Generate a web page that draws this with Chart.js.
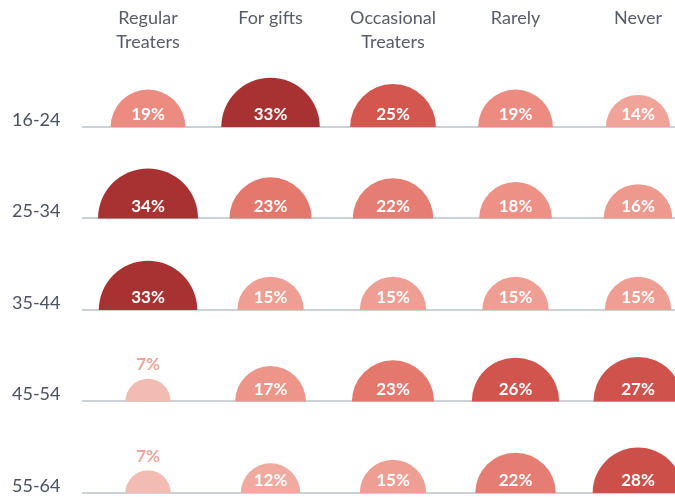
<!DOCTYPE html>
<html>
<head>
<meta charset="utf-8">
<script src="https://cdn.jsdelivr.net/npm/chart.js@4.4.1/dist/chart.umd.min.js"></script>
<style>
  html, body { margin: 0; padding: 0; background: #fff; }
  #wrap { width: 675px; height: 497px; position: relative; }
</style>
</head>
<body>
<div id="wrap"><canvas id="chart"></canvas></div>
<script>
const ageGroups = ["16-24", "25-34", "35-44", "45-54", "55-64"];
const segments = [["Regular", "Treaters"], "For gifts", ["Occasional", "Treaters"], "Rarely", "Never"];

// % per age group, one array per segment
const regularTreaters = [19, 34, 33, 7, 7];
const forGifts = [33, 23, 15, 17, 12];
const occasionalTreaters = [25, 22, 15, 23, 15];
const rarely = [19, 18, 15, 26, 22];
const never = [14, 16, 15, 27, 28];

const series = [regularTreaters, forGifts, occasionalTreaters, rarely, never];

const maxRadius = 50; // radius of the 34% disc
const maxValue = 34;

// colour ramp by value
const ramp = [
  [7, [243, 188, 179]],
  [14, [240, 163, 152]],
  [19, [236, 139, 128]],
  [23, [228, 120, 109]],
  [25, [212, 87, 79]],
  [28, [204, 79, 74]],
  [33, [168, 50, 49]]
];
function colorFor(v) {
  if (v <= ramp[0][0]) return "rgb(" + ramp[0][1].join(",") + ")";
  for (let i = 1; i < ramp.length; i++) {
    if (v <= ramp[i][0]) {
      const [v0, c0] = ramp[i - 1];
      const [v1, c1] = ramp[i];
      const t = (v - v0) / (v1 - v0);
      return "rgb(" + c0.map((c, k) => Math.round(c + (c1[k] - c) * t)).join(",") + ")";
    }
  }
  return "rgb(" + ramp[ramp.length - 1][1].join(",") + ")";
}

const datasets = series.map((values, col) => ({
  label: Array.isArray(segments[col]) ? segments[col].join(" ") : segments[col],
  data: values.map((v, row) => ({ x: col, y: row, v: v })),
  radius: ctx => maxRadius * Math.sqrt(ctx.raw.v / maxValue),
  backgroundColor: ctx => colorFor(ctx.raw.v),
  borderWidth: 0
}));

// draw each bubble as a half disc sitting on its row line, with its % label
const halfDiscs = {
  id: "halfDiscs",
  beforeDatasetDraw(chart, args) {
    const ctx = chart.ctx;
    const ds = chart.data.datasets[args.index];
    ctx.save();
    args.meta.data.forEach((el, i) => {
      const { x, y } = el.getProps(["x", "y"], true);
      const r = el.options.radius;
      const v = ds.data[i].v;
      ctx.fillStyle = el.options.backgroundColor;
      ctx.beginPath();
      ctx.arc(x, y, r, Math.PI, 2 * Math.PI);
      ctx.closePath();
      ctx.fill();

      ctx.font = "bold 17px Lato";
      ctx.textAlign = "center";
      ctx.textBaseline = "middle";
      if (r >= 26) {
        ctx.fillStyle = "#ffffff";
        ctx.fillText(v + "%", x, y - 12);
      } else {
        ctx.fillStyle = "#e9a698";
        ctx.fillText(v + "%", x, y - r - 14);
      }
    });
    ctx.restore();
    return false;
  }
};

const indexTicks = n => scale => {
  scale.ticks = Array.from({ length: n }, (_, i) => ({ value: i }));
};

new Chart(document.getElementById("chart"), {
  type: "bubble",
  data: { datasets: datasets },
  plugins: [halfDiscs],
  options: {
    responsive: true,
    maintainAspectRatio: false,
    animation: false,
    events: [],
    layout: { autoPadding: false, padding: { left: 12, top: 0, right: 0, bottom: 0 } },
    plugins: {
      legend: { display: false },
      tooltip: { enabled: false }
    },
    scales: {
      x: {
        type: "linear",
        position: "top",
        min: -0.539,
        max: 4.302,
        afterBuildTicks: indexTicks(segments.length),
        afterFit: scale => { scale.height = 60; },
        grid: { display: false, drawTicks: false },
        border: { display: false },
        ticks: {
          crossAlign: "far",
          padding: 6,
          color: "#575c68",
          font: { family: "Lato", size: 18, lineHeight: 1.34 },
          callback: (v, i) => segments[i]
        }
      },
      y: {
        type: "linear",
        reverse: true,
        min: -0.732,
        max: 4.044,
        afterBuildTicks: indexTicks(ageGroups.length),
        afterFit: scale => { scale.width = 70; scale.paddingBottom = 0; },
        grid: { color: "#ccd1d9", lineWidth: 2, drawTicks: false },
        border: { display: false },
        ticks: {
          crossAlign: "far",
          labelOffset: -7,
          color: "#4b5162",
          font: { family: "Lato", size: 18 },
          callback: (v, i) => ageGroups[i]
        }
      }
    }
  }
});
</script>
</body>
</html>
